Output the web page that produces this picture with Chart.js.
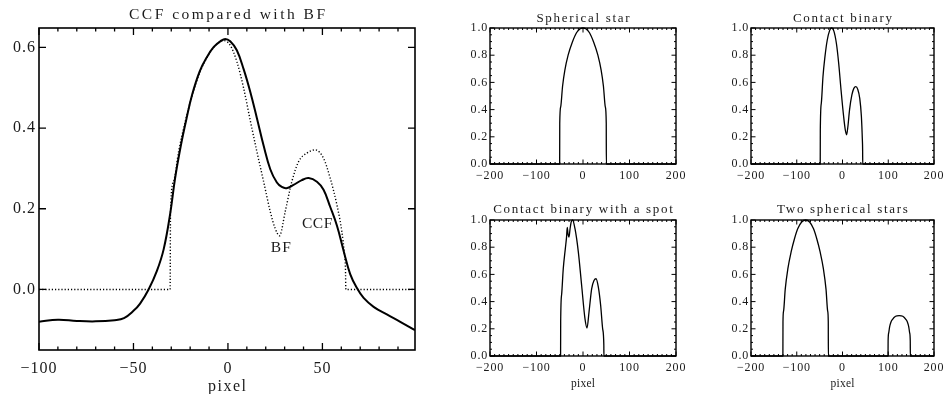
<!DOCTYPE html>
<html>
<head>
<meta charset="utf-8">
<script src="https://cdn.jsdelivr.net/npm/chart.js@4.4.0/dist/chart.umd.min.js"></script>
<style>
html, body { margin: 0; padding: 0; background: #fff; overflow: hidden; }
#wrap { position: relative; width: 948px; height: 394px; }
canvas { position: absolute; }
</style>
</head>
<body>
<div id="wrap">
    <canvas id="ccf"  width="420" height="394" style="left:0;top:0"></canvas>
    <canvas id="sph"  width="255" height="200" style="left:440px;top:0"></canvas>
    <canvas id="bin"  width="247" height="200" style="left:701px;top:0"></canvas>
    <canvas id="spot" width="255" height="204" style="left:440px;top:190px"></canvas>
    <canvas id="two"  width="247" height="204" style="left:701px;top:190px"></canvas>
</div>
<script>
// values
var ccfX = [-100, -90, -80, -70, -60, -55, -50, -46.5, -42, -37.6, -34, -30.5, -28, -25, -22, -19, -15, -11, -7.5, -4,
            -1.4, 1.2, 4.7, 8.3, 11.8, 15.3, 18.9, 22.4, 25.9, 28.5, 31, 34.7, 39.1, 42.7, 47.1, 50.6, 54.1, 57.7, 61.2, 64.7,
            68.2, 71.8, 77.1, 84.1, 91.2, 99];
var ccfY = [-0.080, -0.075, -0.078, -0.079, -0.076, -0.071, -0.053, -0.035, 0.0, 0.046, 0.10, 0.19, 0.275, 0.355, 0.422, 0.482, 0.54, 0.577, 0.601, 0.615,
            0.621, 0.615, 0.593, 0.546, 0.490, 0.425, 0.356, 0.298, 0.265, 0.254, 0.251, 0.259, 0.271, 0.276, 0.267, 0.247, 0.205, 0.158, 0.096, 0.038,
            0.004, -0.021, -0.043, -0.062, -0.080, -0.101];

var bfX = [-100, -30.6, -30.4, -28.8, -26.1, -22.6, -19.1, -14.7, -10.2, -5.8, -2.3, 1.2, 4.7, 8.3, 11.8, 15.3, 18.9, 22.4, 25.0, 27.3,
           30.3, 33.8, 37.4, 41.8, 46.2, 50.6, 54.1, 57.7, 60.3, 61.6, 62.2, 62.4, 99];
var bfY = [0, 0, 0.193, 0.267, 0.342, 0.416, 0.478, 0.540, 0.582, 0.608, 0.617, 0.605, 0.565, 0.499, 0.419, 0.342, 0.267, 0.193, 0.151, 0.133,
           0.193, 0.267, 0.317, 0.338, 0.346, 0.325, 0.276, 0.209, 0.143, 0.09, 0.05, 0, 0];

var starX = [-200, -50.2, -50, -48, -44, -39, -32, -23, -14, -6, 0, 6, 14, 23, 32, 39, 44, 48, 50, 50.2, 200];
var starY = [0, 0, 0.3, 0.42, 0.57, 0.69, 0.80, 0.895, 0.965, 0.995, 1.0, 0.995, 0.965, 0.895, 0.80, 0.69, 0.57, 0.42, 0.3, 0, 0];

var binX = [-200, -48.7, -48.5, -46.3, -42.7, -38.4, -33.4, -28.4, -24, -19, -13.3, -8.3, -3.2, 2.5, 6.1, 9, 11.8, 15.4, 20.5, 24.8,
            29.1, 33.4, 37.7, 41.3, 43.4, 44.0, 44.2, 200];
var binY = [0, 0, 0.25, 0.447, 0.642, 0.788, 0.91, 0.979, 1.0, 0.979, 0.886, 0.739, 0.544, 0.349, 0.251, 0.215, 0.276, 0.398, 0.508, 0.556,
            0.569, 0.549, 0.483, 0.349, 0.178, 0.1, 0, 0];

var spotX = [-200, -48.2, -48, -46, -42.5, -38, -35.5, -33.8, -32.3, -30, -28, -25.5, -22.5, -17.2, -10, -2.9, 4.3, 8.6, 12.9, 18.6,
             23.7, 28, 33, 38, 42.3, 44.8, 45.0, 200];
var spotY = [0, 0, 0.25, 0.45, 0.64, 0.79, 0.87, 0.945, 0.9, 0.875, 0.93, 0.985, 1.0, 0.936, 0.764, 0.518, 0.273, 0.206, 0.322, 0.494,
             0.555, 0.568, 0.506, 0.371, 0.199, 0.08, 0, 0];

var twoX = [-200, -130.3, -130.1, -128.8, -125.2, -119.5, -112.3, -105.1, -97.9, -89.3, -80.6, -71.9, -63.3, -56.1, -48.9, -41.7, -36, -32.4, -31.1, -30.9,
            99.5, 99.7, 101, 103, 106, 109, 116, 123.9, 131.8, 138.8, 141.8, 144.8, 146.8, 148.1, 148.3, 200];
var twoY = [0, 0, 0.25, 0.33, 0.49, 0.64, 0.765, 0.86, 0.935, 0.985, 1.0, 0.985, 0.935, 0.86, 0.765, 0.64, 0.49, 0.33, 0.25, 0,
            0, 0.11, 0.17, 0.215, 0.25, 0.268, 0.292, 0.297, 0.292, 0.268, 0.25, 0.215, 0.17, 0.11, 0, 0];

var mainXTicks = [-100, -50, 0, 50];
var mainYTicks = [0, 0.2, 0.4, 0.6];
var smallXTicks = [-200, -100, 0, 100, 200];
var smallYTicks = [0, 0.2, 0.4, 0.6, 0.8, 1.0];

var serif = "'Liberation Serif', 'Times New Roman', serif";
var ink = '#1a1a1a';

function pts(xs, ys) {
    return xs.map(function (x, i) { return { x: x, y: ys[i] }; });
}
function fmtX(v) {
    return v < 0 ? '\u2212' + Math.abs(v) : String(v);
}
function fmtY(v) {
    return Math.abs(v) < 1e-9 ? '0.0' : v.toFixed(1);
}

// wide IDL-like lettering for the tick labels
var spacing = {
    id: 'spacing',
    beforeDraw: function (chart, args, o) {
        chart.ctx.letterSpacing = o.sp + 'px';
    }
};

// IDL-style box with inward ticks on all four sides
var idlAxes = {
    id: 'idlAxes',
    afterDatasetsDraw: function (chart, args, o) {
        var ctx = chart.ctx, a = chart.chartArea, xs = chart.scales.x, ys = chart.scales.y;
        ctx.save();
        ctx.strokeStyle = '#000';
        ctx.lineWidth = o.tw;
        ctx.beginPath();
        function each(s, step, major, cb) {
            var k0 = Math.ceil(s.min / step - 1e-6), k1 = Math.floor(s.max / step + 1e-6);
            for (var k = k0; k <= k1; k++) {
                var v = k * step, r = v / major;
                cb(s.getPixelForValue(v), Math.abs(r - Math.round(r)) < 1e-6);
            }
        }
        each(xs, o.xMinor || o.xMajor, o.xMajor, function (p, big) {
            var l = big ? o.majLen : o.minLen;
            ctx.moveTo(p, a.bottom); ctx.lineTo(p, a.bottom - l);
            ctx.moveTo(p, a.top); ctx.lineTo(p, a.top + l);
        });
        each(ys, o.yMinor || o.yMajor, o.yMajor, function (p, big) {
            var l = big ? o.majLen : o.minLen;
            ctx.moveTo(a.left, p); ctx.lineTo(a.left + l, p);
            ctx.moveTo(a.right, p); ctx.lineTo(a.right - l, p);
        });
        ctx.stroke();
        ctx.lineWidth = o.lw;
        ctx.strokeRect(a.left, a.top, a.right - a.left, a.bottom - a.top);
        ctx.restore();
    }
};

// titles, axis names and curve labels
var idlText = {
    id: 'idlText',
    afterDraw: function (chart, args, o) {
        var ctx = chart.ctx, a = chart.chartArea;
        ctx.save();
        ctx.fillStyle = ink;
        ctx.textAlign = 'center';
        ctx.textBaseline = 'middle';
        o.items.forEach(function (it) {
            ctx.font = it.size + 'px ' + serif;
            ctx.letterSpacing = (it.sp || 0) + 'px';
            var x = it.dx !== undefined ? chart.scales.x.getPixelForValue(it.dx) : (a.left + a.right) / 2;
            var y = it.dy !== undefined ? chart.scales.y.getPixelForValue(it.dy) : it.y;
            ctx.fillText(it.t, x + (it.sp || 0) / 2, y);
        });
        ctx.restore();
    }
};

function axis(min, max, tickList, fmt, size, pad, fitFn) {
    return {
        type: 'linear', min: min, max: max,
        grid: { display: false, drawTicks: false },
        border: { display: false },
        afterBuildTicks: function (s) { s.ticks = tickList.map(function (v) { return { value: v }; }); },
        afterFit: fitFn,
        ticks: { padding: pad, color: ink, autoSkip: false, maxRotation: 0, font: { family: serif, size: size }, callback: fmt }
    };
}

function lineSet(data, width, dash, mode) {
    return {
        data: data, borderColor: '#000', borderWidth: width, borderDash: dash || [],
        pointRadius: 0, fill: false,
        cubicInterpolationMode: mode || 'monotone', tension: 0.4
    };
}

// big panel
new Chart(document.getElementById('ccf'), {
    type: 'line',
    data: {
        datasets: [
            lineSet(pts(ccfX, ccfY), 2, [], 'default'),
            lineSet(pts(bfX, bfY), 1.4, [1.2, 2])
        ]
    },
    options: {
        responsive: false, animation: false, events: [],
        layout: { padding: { left: 0, top: 28, right: 5, bottom: 0 } },
        plugins: {
            legend: { display: false }, tooltip: { enabled: false },
            spacing: { sp: 1 },
            idlAxes: { lw: 1.6, tw: 1.3, xMajor: 50, xMinor: 10, yMajor: 0.2, majLen: 7, minLen: 3.5 },
            idlText: { items: [
                { t: 'CCF compared with BF', y: 15, size: 15.5, sp: 2.5 },
                { t: 'pixel', y: 386.5, size: 16, sp: 1.5 },
                { t: 'BF', dx: 28.0, dy: 0.102, size: 15.5, sp: 1 },
                { t: 'CCF', dx: 47.2, dy: 0.162, size: 15.5, sp: 0.5 }
            ] }
        },
        scales: {
            x: axis(-100, 99, mainXTicks, fmtX, 16, 9, function (s) { s.height = 44; }),
            y: axis(-0.15, 0.648, mainYTicks, fmtY, 16, 3, function (s) { s.width = 39; })
        }
    },
    plugins: [spacing, idlAxes, idlText]
});

// the four model panels
function smallPanel(id, xs, ys, title, bottomRow, rightCol) {
    var top = bottomRow ? 30 : 28, xh = bottomRow ? 38 : 36;
    var items = [{ t: title, y: bottomRow ? 20 : 18.3, size: 13, sp: 1.7 }];
    if (bottomRow) items.push({ t: 'pixel', y: 194, size: 11.5, sp: 0.2 });
    new Chart(document.getElementById(id), {
        type: 'line',
        data: { datasets: [ lineSet(pts(xs, ys), 1.3) ] },
        options: {
            responsive: false, animation: false, events: [],
            layout: { padding: { left: 0, top: top, right: rightCol ? 11 : 19, bottom: 0 } },
            plugins: {
                legend: { display: false }, tooltip: { enabled: false },
                spacing: { sp: 0.8 },
                idlAxes: { lw: 1.4, tw: 1, xMajor: 100, xMinor: 10, yMajor: 0.2, yMinor: 0.05, majLen: 4.5, minLen: 2 },
                idlText: { items: items }
            },
            scales: {
                x: axis(-200, 200, smallXTicks, fmtX, 12, 5, function (s) { s.height = xh; }),
                y: axis(0, 1.0, smallYTicks, fmtY, 12, 2, function (s) { s.width = 50; })
            },
            elements: { line: { borderJoinStyle: 'round' } },
            datasets: { line: { clip: false } }
        },
        plugins: [spacing, idlAxes, idlText]
    });
}

smallPanel('sph', starX, starY, 'Spherical star', false, false);
smallPanel('bin', binX, binY, 'Contact binary', false, true);
smallPanel('spot', spotX, spotY, 'Contact binary with a spot', true, false);
smallPanel('two', twoX, twoY, 'Two spherical stars', true, true);
</script>
</body>
</html>
